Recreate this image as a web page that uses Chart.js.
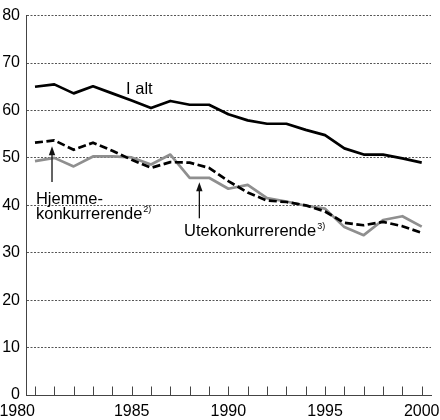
<!DOCTYPE html>
<html><head><meta charset="utf-8">
<script src="https://cdn.jsdelivr.net/npm/chart.js@4/dist/chart.umd.min.js"></script>
<style>html,body{margin:0;padding:0;background:#fff}#c{display:block}</style>
</head><body>
<canvas id="c" width="440" height="420"></canvas>
<script>
// ---- data ----
const years = [1980,1981,1982,1983,1984,1985,1986,1987,1988,1989,1990,1991,1992,1993,1994,1995,1996,1997,1998,1999,2000];
const iAlt =    [65.0,65.5,63.6,65.1,63.6,62.1,60.5,62.0,61.2,61.2,59.2,57.9,57.2,57.2,55.9,54.8,52.0,50.7,50.7,49.9,49.0];
const hjemme =  [53.2,53.7,51.7,53.2,51.5,49.6,47.9,49.1,49.0,47.9,45.1,42.7,41.0,40.7,40.0,38.7,36.3,35.8,36.5,35.6,34.2];
const ute =     [49.3,50.0,48.2,50.3,50.3,50.1,48.6,50.7,45.8,45.8,43.5,44.3,41.5,40.8,39.9,39.3,35.4,33.7,36.9,37.7,35.5];
const xTickLabels = ['1980','1985','1990','1995','2000'];
const yTickValues = [0,10,20,30,40,50,60,70,80];

const FONT = '"Liberation Sans", Arial, Helvetica, sans-serif';
const AXIS = '#444';

const pts = arr => years.map((y,i) => ({x:y, y:arr[i]}));

const overlay = {
  id: 'overlay',
  afterDatasetsDraw(chart) {
    const ctx = chart.ctx, xs = chart.scales.x, ys = chart.scales.y;
    const X = v => xs.getPixelForValue(v), Y = v => ys.getPixelForValue(v);
    ctx.save();
    // x tick marks (inside, upward)
    ctx.strokeStyle = AXIS; ctx.lineWidth = 1;
    const yb = Y(0);
    years.forEach(yr => {
      const px = Math.round(X(yr)) + 0.5;
      ctx.beginPath(); ctx.moveTo(px, yb); ctx.lineTo(px, yb - 8.5); ctx.stroke();
    });
    // x tick labels
    ctx.fillStyle = '#000';
    ctx.font = '16px ' + FONT;
    ctx.textBaseline = 'alphabetic';
    xTickLabels.forEach((lab, i) => {
      const px = X(Number(lab));
      ctx.textAlign = i === 0 ? 'right' : 'center';
      ctx.fillText(lab, px, yb + 20.5);
    });
    // annotations
    ctx.textAlign = 'left';
    ctx.font = '16.5px ' + FONT;
    ctx.fillText('I alt', X(1984.71), Y(63.54));
    ctx.fillText('Hjemme-', X(1980.05), Y(40.26));
    const k = 'konkurrerende';
    ctx.fillText(k, X(1980.05), Y(37.05));
    const w = ctx.measureText(k).width;
    const u = 'Utekonkurrerende';
    ctx.fillText(u, X(1987.71), Y(33.63));
    const w2 = ctx.measureText(u).width;
    ctx.font = '9px ' + FONT;
    ctx.fillText('2)', X(1980.05) + w + 1, Y(37.05) - 7);
    ctx.fillText('3)', X(1987.71) + w2 + 1, Y(33.63) - 7);
    // arrows
    const arrow = (xv, yTip, yBot) => {
      const px = X(xv), pt = Y(yTip), pb = Y(yBot);
      ctx.strokeStyle = '#111'; ctx.fillStyle = '#111'; ctx.lineWidth = 1.3;
      ctx.beginPath(); ctx.moveTo(px, pb); ctx.lineTo(px, pt + 6); ctx.stroke();
      ctx.beginPath(); ctx.moveTo(px, pt); ctx.lineTo(px - 3.2, pt + 9); ctx.lineTo(px + 3.2, pt + 9); ctx.closePath(); ctx.fill();
    };
    arrow(1980.88, 52.47, 44.92);
    arrow(1988.5, 44.85, 37.26);
    ctx.restore();
  }
};

new Chart(document.getElementById('c'), {
  type: 'line',
  data: {
    datasets: [
      { label: 'Hjemmekonkurrerende', data: pts(hjemme), borderColor: '#000', borderWidth: 2.7, borderDash: [8,3.5], order: 0 },
      { label: 'Utekonkurrerende', data: pts(ute), borderColor: '#8f8f8f', borderWidth: 2.7, order: 1 },
      { label: 'I alt', data: pts(iAlt), borderColor: '#000', borderWidth: 2.7, order: 2 }
    ]
  },
  options: {
    responsive: false,
    animation: false,
    layout: { padding: { top: 1.4, right: 9, left: 0, bottom: 0 } },
    elements: { point: { radius: 0 }, line: { tension: 0, borderJoinStyle: 'round' } },
    plugins: { legend: { display: false }, tooltip: { enabled: false } },
    scales: {
      x: {
        type: 'linear', min: 1979.535, max: 2000.48,
        ticks: { display: false },
        grid: { display: false },
        border: { display: true, color: AXIS, width: 1 },
        afterFit: s => { s.height = 25; }
      },
      y: {
        min: 0, max: 80,
        afterBuildTicks: s => { s.ticks = yTickValues.map(v => ({value: v})); },
        ticks: { color: '#000', font: { family: FONT, size: 16 }, padding: 6 },
        grid: { color: '#555', lineWidth: 1, drawTicks: false },
        border: { display: true, color: AXIS, width: 1, dash: [2,1.5] },
        afterFit: s => { s.width = 26; }
      }
    }
  },
  plugins: [overlay]
});
</script>
</body></html>
